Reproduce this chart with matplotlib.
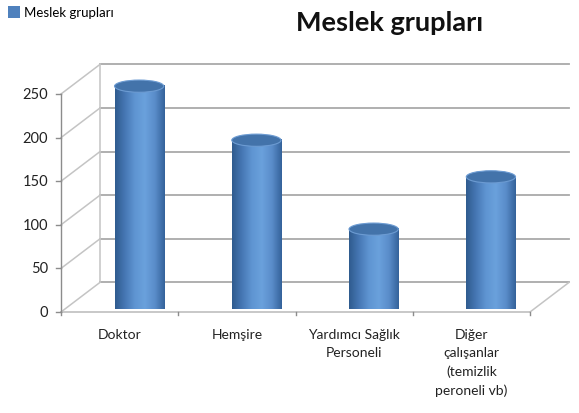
import numpy as np
import matplotlib
matplotlib.use("Agg")
import matplotlib.pyplot as plt
from matplotlib.patches import Ellipse, PathPatch, Patch
from matplotlib.path import Path
from matplotlib.colors import LinearSegmentedColormap

plt.rcParams['font.family'] = ['Lato', 'DejaVu Sans']

# veriler
categories = ["Doktor", "Hemşire", "Yardımcı Sağlık\nPersoneli",
              "Diğer\nçalışanlar\n(temizlik\nperoneli vb)"]
values = [242, 180, 78, 138]
yticks = [0, 50, 100, 150, 200, 250]
series_name = "Meslek grupları"

# sahte 3B derinlik (veri birimi)
DX = 0.333
DY = 34
CYL_W = 0.42
CAP_H = 14

grid_c = "#a9a9a9"
wall_c = "#c4c4c4"

fig = plt.figure(figsize=(5.79, 4.14), dpi=100)
ax = fig.add_axes([61 / 579, 101 / 414, 469 / 579, 218 / 414])
ax.set_xlim(-0.5, len(categories) - 0.5)
ax.set_ylim(0, 250)
ax.axis("off")

x0, x1 = -0.5, len(categories) - 0.5

# arka duvar ve yan duvar çizgileri
for t in yticks:
    ax.plot([x0 + DX, x1 + DX], [t + DY, t + DY], color=grid_c, lw=1.3,
            clip_on=False, zorder=1)
    ax.plot([x0, x0 + DX], [t, t + DY], color=wall_c, lw=1.1,
            clip_on=False, zorder=1)
ax.plot([x0 + DX, x0 + DX], [DY, 250 + DY], color=wall_c, lw=1.1,
        clip_on=False, zorder=1)

# zemin
ax.plot([x0, x1], [0, 0], color=wall_c, lw=1.3, clip_on=False, zorder=2)
ax.plot([x1, x1 + DX], [0, DY], color=wall_c, lw=1.1, clip_on=False, zorder=2)

# y ekseni
ax.plot([x0, x0], [0, 250], color="#8c8c8c", lw=1.0, clip_on=False, zorder=3)
for t in yticks:
    ax.plot([x0 - 0.04, x0], [t, t], color="#8c8c8c", lw=1.0,
            clip_on=False, zorder=3)
    ax.text(x0 - 0.11, t, str(t), ha="right", va="center", fontsize=10.5,
            color="#222222")

# x ekseni işaretleri ve etiketleri
for i in range(len(categories) + 1):
    ax.plot([x0 + i, x0 + i], [0, -4], color="#8c8c8c", lw=1.0,
            clip_on=False, zorder=3)
for i, lab in enumerate(categories):
    ax.text(i, -18, lab, ha="center", va="top", fontsize=10,
            color="#222222", linespacing=1.62)

# silindirler
cmap = LinearSegmentedColormap.from_list(
    "cyl", ["#2f5b8e", "#4677b4", "#5f95d2", "#6aa1dc", "#5a8dca", "#34629a"])
grad = np.linspace(0, 1, 256).reshape(1, -1)
for i, v in enumerate(values):
    xc = i + DX / 2
    base = DY / 2
    top = v + DY / 2
    left, right = xc - CYL_W / 2, xc + CYL_W / 2
    th = np.linspace(np.pi, 2 * np.pi, 60)
    arc = np.column_stack([xc + CYL_W / 2 * np.cos(th),
                           base + CAP_H / 2 * np.sin(th)])
    verts = np.vstack([[left, top], [left, base], arc, [right, top], [left, top]])
    codes = [Path.MOVETO] + [Path.LINETO] * (len(verts) - 2) + [Path.CLOSEPOLY]
    body = PathPatch(Path(verts, codes), facecolor="none", edgecolor="none",
                     transform=ax.transData)
    ax.add_patch(body)
    im = ax.imshow(grad, cmap=cmap, aspect="auto", zorder=4,
                   extent=[left, right, base - CAP_H, top], clip_on=False)
    im.set_clip_path(body)
    cap = Ellipse((xc, top), CYL_W, CAP_H, facecolor="#4373aa",
                  edgecolor="#6c9bd2", lw=0.8, zorder=5, clip_on=False)
    ax.add_patch(cap)

ax.set_xlim(-0.5, len(categories) - 0.5)
ax.set_ylim(0, 250)

# başlık ve lejant
fig.text(390 / 579, 1 - 23 / 414, series_name, ha="center", va="center",
         fontsize=19.5, fontweight="bold", color="#111111")
fig.legend(handles=[Patch(facecolor="#4f81bd", edgecolor="none",
                          label=series_name)],
           loc="upper left", bbox_to_anchor=(-0.006, 1.012), frameon=False,
           fontsize=9.5, handlelength=0.9, handleheight=1.0, handletextpad=0.3)

fig.savefig("out.png", dpi=100)
